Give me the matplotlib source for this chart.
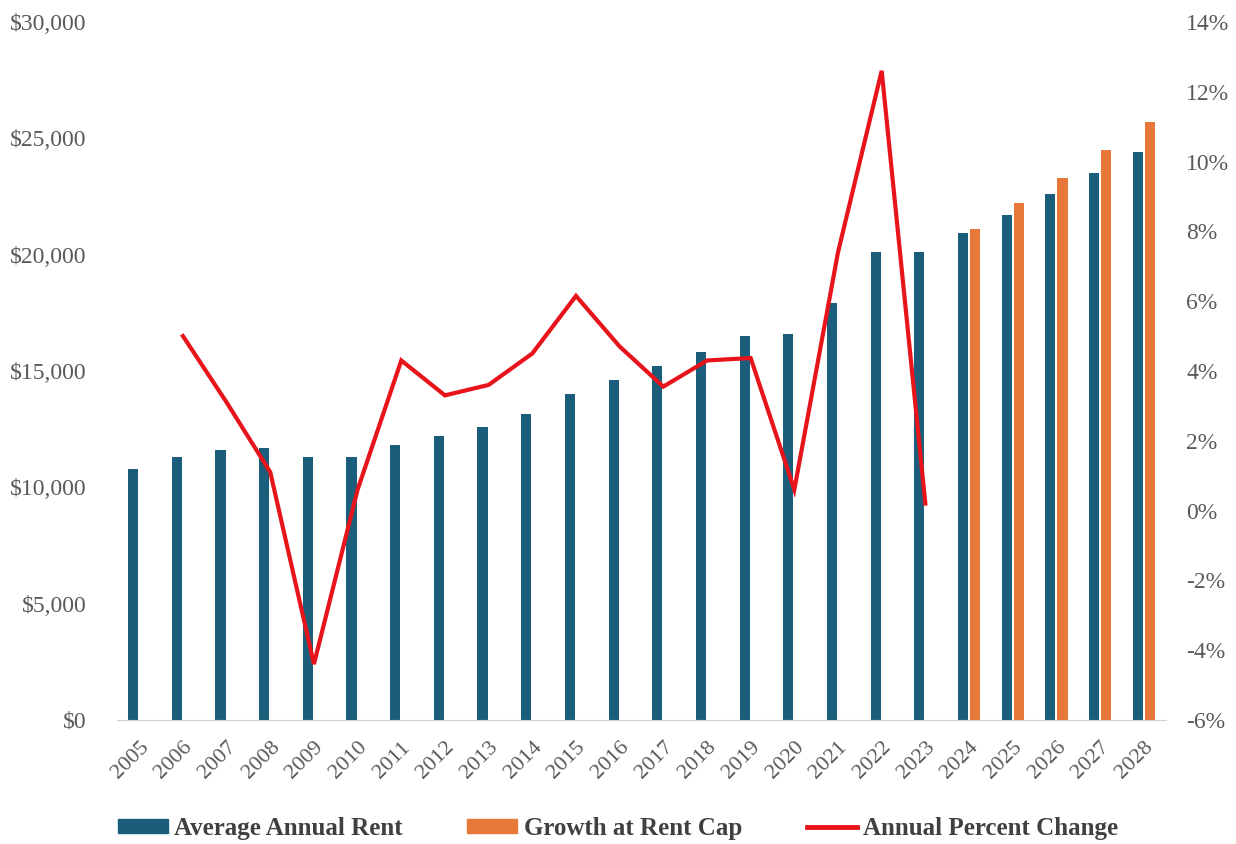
import matplotlib
matplotlib.use("Agg")
import matplotlib.pyplot as plt
from matplotlib.patches import Patch
from matplotlib.lines import Line2D
from matplotlib.ticker import FuncFormatter

plt.rcParams['font.family'] = ['Liberation Serif', 'DejaVu Serif']

years = [str(y) for y in range(2005, 2029)]
avg_rent = [10800, 11300, 11600, 11700, 11300, 11300, 11800, 12200, 12600, 13150,
            14000, 14600, 15200, 15800, 16500, 16600, 17900, 20100, 20100,
            20950, 21700, 22600, 23500, 24400]
cap_years = ['2024', '2025', '2026', '2027', '2028']
cap_rent = [21100, 22200, 23300, 24500, 25700]
pct_years = [str(y) for y in range(2006, 2024)]
pct_change = [5.0, 3.1, 1.1, -4.4, 0.6, 4.3, 3.3, 3.6, 4.5, 6.15,
              4.7, 3.55, 4.3, 4.37, 0.6, 7.4, 12.6, 0.2]

blue = '#1a5e7c'
orange = '#e8773a'
red = '#e8141c'
grey = '#595959'

fig = plt.figure(figsize=(12.36, 8.44), dpi=100)
ax = fig.add_axes([0.095, 0.147, 0.848, 0.827])
ax2 = ax.twinx()

pos = {y: i for i, y in enumerate(years)}
ax.bar([pos[y] - 0.14 for y in years], avg_rent, width=0.23, color=blue, zorder=2)
ax.bar([pos[y] + 0.14 for y in cap_years], cap_rent, width=0.23, color=orange, zorder=2)
ax2.plot([pos[y] for y in pct_years], pct_change, color=red, lw=3, solid_joinstyle='miter')

ax.set_xlim(-0.5, len(years) - 0.5)
ax.set_ylim(0, 30000)
ax.set_yticks(range(0, 30001, 5000))
ax.yaxis.set_major_formatter(FuncFormatter(lambda v, p: '${:,.0f}'.format(v)))
ax2.set_ylim(-6, 14)
ax2.set_yticks(range(-6, 15, 2))
ax2.yaxis.set_major_formatter(FuncFormatter(lambda v, p: '{:.0f}%'.format(v)))

ax.set_xticks(range(len(years)))
ax.set_xticklabels(years, rotation=45, ha='right', rotation_mode='anchor')

for a in (ax, ax2):
    for s in ['top', 'left', 'right', 'bottom']:
        a.spines[s].set_visible(False)
    a.tick_params(length=0, labelsize=17, colors=grey)
ax.spines['bottom'].set_visible(True)
ax.spines['bottom'].set_color('#d0d0d0')
ax.tick_params(axis='x', labelsize=16, pad=13)
ax.tick_params(axis='y', pad=22)
ax2.tick_params(axis='y', pad=15)

handles = [Patch(color=blue), Patch(color=orange), Line2D([], [], color=red, lw=3.5)]
labels = ['Average Annual Rent', 'Growth at Rent Cap', 'Annual Percent Change']
leg = fig.legend(handles, labels, loc='lower center', bbox_to_anchor=(0.5, -0.022), ncol=3,
                 frameon=False, prop={'weight': 'bold', 'size': 18}, handlelength=2.0,
                 handleheight=0.5, handletextpad=0.25, columnspacing=2.6)
for t in leg.get_texts():
    t.set_color('#404040')

fig.savefig('out.png', dpi=100)
